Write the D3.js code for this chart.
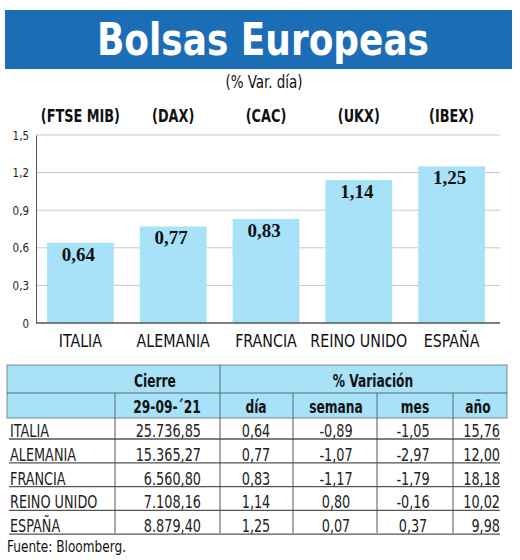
<!DOCTYPE html>
<html>
<head>
<meta charset="utf-8">
<script src="https://cdn.jsdelivr.net/npm/d3@7"></script>
<style>
  body { margin: 0; background: #fff; }
  svg { display: block; }
</style>
</head>
<body>
<div id="chart"></div>
<script>
// data
const countries = ["ITALIA", "ALEMANIA", "FRANCIA", "REINO UNIDO", "ESPAÑA"];
const indices = ["(FTSE MIB)", "(DAX)", "(CAC)", "(UKX)", "(IBEX)"];
const varDia = [0.64, 0.77, 0.83, 1.14, 1.25];
const cierre = [25736.85, 15365.27, 6560.80, 7108.16, 8879.40];
const varSemana = [-0.89, -1.07, -1.17, 0.80, 0.07];
const varMes = [-1.05, -2.97, -1.79, -0.16, 0.37];
const varAno = [15.76, 12.00, 18.18, 10.02, 9.98];
const yTicks = [0, 0.3, 0.6, 0.9, 1.2, 1.5];

const W = 520, H = 560;
const NARROW = "'DejaVu Sans Condensed', 'Liberation Sans Narrow', sans-serif";
const BLUE = "#1b6eb6";
const LIGHT = "#a7e2f8";
const LINE = "#555";

const es = d3.formatLocale({ decimal: ",", thousands: ".", grouping: [3], currency: ["", " €"], minus: "-" });
const f2 = es.format(",.2f");
const f1 = es.format(".1f");
const tickFmt = d => d === 0 ? "0" : f1(d);

const svg = d3.select("#chart").append("svg")
  .attr("width", W)
  .attr("height", H);

// squeezed text, the original face is a condensed one
function label(g, str, x, y, o) {
  return g.append("text")
    .attr("transform", `translate(${x},${y}) scale(${o.sx || 0.85},1)`)
    .attr("text-anchor", o.anchor || "middle")
    .attr("font-family", NARROW)
    .attr("font-weight", o.bold ? "bold" : "normal")
    .attr("font-size", o.size || 17)
    .attr("fill", o.fill || "#111")
    .text(str);
}

// title banner
svg.append("rect")
  .attr("x", 5).attr("y", 10)
  .attr("width", 507).attr("height", 59)
  .attr("fill", BLUE);

svg.append("text")
  .attr("x", 263).attr("y", 55)
  .attr("text-anchor", "middle")
  .attr("font-family", NARROW)
  .attr("font-weight", "bold")
  .attr("font-size", 45)
  .attr("textLength", 332)
  .attr("lengthAdjust", "spacingAndGlyphs")
  .attr("fill", "#fff")
  .text("Bolsas Europeas");

label(svg, "(% Var. día)", 264, 88, { size: 17, sx: 0.88 });

// bar chart
const x = d3.scaleBand()
  .domain(countries)
  .range([34, 498])
  .paddingInner(0.28)
  .paddingOuter(0.14);

const y = d3.scaleLinear()
  .domain([0, 1.5])
  .range([323, 135]);

const chart = svg.append("g");

chart.selectAll(".grid")
  .data(yTicks.filter(d => d > 0))
  .enter().append("line")
  .attr("class", "grid")
  .attr("x1", 36).attr("x2", 500)
  .attr("y1", d => y(d)).attr("y2", d => y(d))
  .attr("stroke", "#c8c8c8")
  .attr("stroke-width", 1);

const yAxis = chart.append("g")
  .attr("transform", "translate(36,0)")
  .call(d3.axisLeft(y).tickValues(yTicks).tickFormat(tickFmt).tickSize(0).tickPadding(8));
yAxis.select(".domain").attr("stroke", LINE);
yAxis.selectAll("text")
  .attr("transform", "scale(0.88,1)")
  .attr("font-family", NARROW)
  .attr("font-size", 13)
  .attr("fill", "#222");

chart.selectAll(".bar")
  .data(varDia)
  .enter().append("rect")
  .attr("class", "bar")
  .attr("x", (d, i) => x(countries[i]))
  .attr("y", d => y(d))
  .attr("width", x.bandwidth())
  .attr("height", d => y(0) - y(d))
  .attr("fill", LIGHT);

chart.selectAll(".val")
  .data(varDia)
  .enter().append("text")
  .attr("class", "val")
  .attr("x", (d, i) => x(countries[i]) + x.bandwidth() / 2 - 2)
  .attr("y", d => y(d) + 18)
  .attr("text-anchor", "middle")
  .attr("font-family", "'Liberation Serif', 'DejaVu Serif', serif")
  .attr("font-weight", "bold")
  .attr("font-size", 19)
  .attr("fill", "#111")
  .text(d => f2(d));

const xAxis = chart.append("g")
  .attr("transform", "translate(0,323)")
  .call(d3.axisBottom(x).tickSize(0).tickPadding(11));
xAxis.select(".domain").attr("d", "M36,0H500").attr("stroke", LINE).attr("stroke-width", 1.5);
xAxis.selectAll("text")
  .attr("transform", "scale(0.88,1)")
  .attr("font-family", NARROW)
  .attr("font-size", 18)
  .attr("fill", "#111");

indices.forEach((d, i) => {
  label(chart, d, x(countries[i]) + x.bandwidth() / 2, 122, { bold: true, size: 17, sx: 0.84 });
});

// table
const cols = [7, 115, 220, 293, 377, 453, 507];
const table = svg.append("g");

table.append("rect")
  .attr("x", cols[0]).attr("y", 365)
  .attr("width", cols[6] - cols[0]).attr("height", 53)
  .attr("fill", LIGHT)
  .attr("stroke", "#7a8a90")
  .attr("stroke-width", 1);

table.append("line")
  .attr("x1", cols[0]).attr("x2", cols[6])
  .attr("y1", 393).attr("y2", 393)
  .attr("stroke", "#5a6a70");

table.append("line")
  .attr("x1", cols[2]).attr("x2", cols[2])
  .attr("y1", 365).attr("y2", 393)
  .attr("stroke", "#5a6a70");

[1, 2, 3, 4, 5].forEach(c => {
  table.append("line")
    .attr("x1", cols[c]).attr("x2", cols[c])
    .attr("y1", 393).attr("y2", 418)
    .attr("stroke", "#5a6a70");
});

const hdr = { bold: true, size: 17, sx: 0.8 };
label(table, "Cierre", 155, 387, hdr);
label(table, "% Variación", 373, 387, hdr);
label(table, "29-09-´21", 167, 413, hdr);
label(table, "día", 256, 413, hdr);
label(table, "semana", 336, 413, hdr);
label(table, "mes", 415, 413, hdr);
label(table, "año", 478, 413, hdr);

const row = d3.scaleBand()
  .domain(countries)
  .range([416, 535]);

countries.forEach((c, i) => {
  const top = row(c);
  const base = top + 21;
  table.append("line")
    .attr("x1", 9).attr("x2", 500)
    .attr("y1", top + 23).attr("y2", top + 23)
    .attr("stroke", LINE)
    .attr("stroke-width", 1.3);

  const cell = { size: 17, sx: 0.84, fill: "#222" };
  label(table, c, 10, base, { ...cell, anchor: "start" });
  label(table, f2(cierre[i]), 201, base, { ...cell, anchor: "end" });
  label(table, f2(varDia[i]), 256, base, cell);
  label(table, f2(varSemana[i]), 336, base, cell);
  label(table, f2(varMes[i]), 413, base, cell);
  label(table, f2(varAno[i]), 500, base, { ...cell, anchor: "end" });
});

[1, 2, 3, 4, 5].forEach(c => {
  table.append("line")
    .attr("x1", cols[c]).attr("x2", cols[c])
    .attr("y1", 418).attr("y2", 533)
    .attr("stroke", LINE);
});

label(svg, "Fuente: Bloomberg.", 7, 552, { size: 15, sx: 0.9, anchor: "start" });
</script>
</body>
</html>
